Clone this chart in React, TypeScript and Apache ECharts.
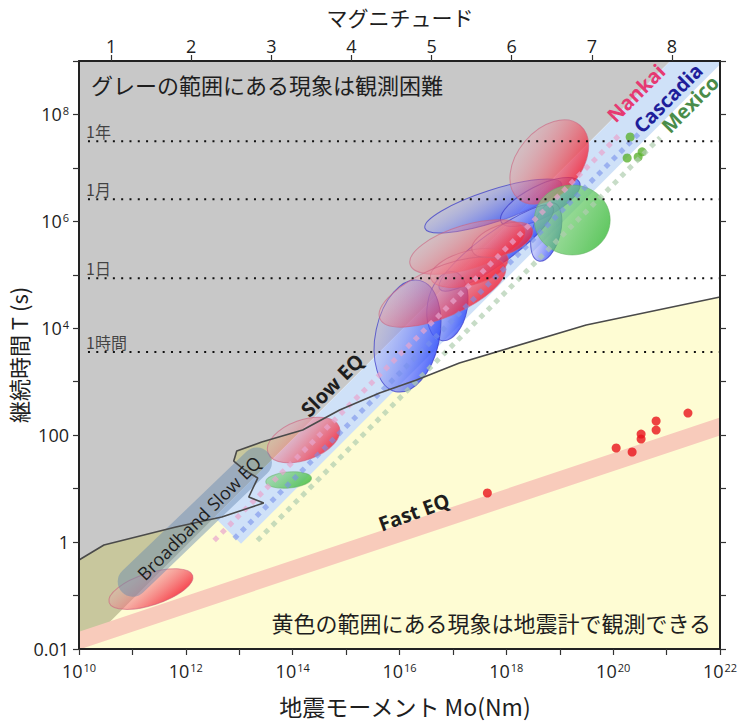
import React, { useEffect, useRef } from 'react';
import * as echarts from 'echarts';

// ---- axes (log10 of seismic moment [Nm] and of duration [s]) ----
const momentRange = [10, 22];
const durationRange = [-2, 9];
const magnitudeTicks = [1, 2, 3, 4, 5, 6, 7, 8];
const momentLabelExponents = [10, 12, 14, 16, 18, 20, 22];
const durationLabelExponents = [-2, 0, 2, 4, 6, 8];

// ---- reference durations ----
const timeLabels = ['1年', '1月', '1日', '1時間'];
const timeSeconds = [31557600, 2592000, 86400, 3600];

// ---- seismometer detection limit (log10 M0, log10 T) ----
const detectionX = [10, 10.467, 11.813, 12.673, 13.458, 13.178, 13.346, 13.103, 12.897, 12.953, 13.421, 14.187, 14.879, 15.626, 16.318, 17.121, 19.495, 22];
const detectionY = [-0.336, -0.055, 0.282, 0.469, 0.731, 0.843, 1.198, 1.348, 1.516, 1.703, 1.872, 2.096, 2.47, 2.789, 3.032, 3.35, 4.061, 4.585];

// grey area: log10 M0 - log10 T below this value
const grayLimit = 12.07;

// ---- scaling bands ----
const slowBandX = [12.785, 22.3];
const slowBandY = [0.215, 9.73];
const broadbandX = [11.006, 13.331];
const broadbandY = [-0.74, 1.49];
const fastBandX = [9.5, 22.5];
const fastBandY = [-2.01, 2.33];

const nankaiLineX = [12.53, 20.15];
const nankaiLineY = [0.03, 7.65];
const cascadiaLineX = [12.905, 20.57];
const cascadiaLineY = [0.065, 7.73];
const mexicoLineX = [13.34, 20.88];
const mexicoLineY = [0.03, 7.57];

// ---- regular earthquakes ----
const fastEqX = [17.645, 20.056, 20.355, 20.523, 20.523, 20.804, 20.804, 21.4];
const fastEqY = [0.918, 1.76, 1.685, 2.021, 1.928, 2.265, 2.096, 2.414];

// ---- Mexico long-term slow slip events ----
const mexicoDotX = [20.318, 20.262, 20.467, 20.542];
const mexicoDotY = [7.578, 7.185, 7.204, 7.3];

// ---- slow earthquake ranges: [centre log M0, centre log T, semi-axis a, semi-axis b (decades), tilt deg] ----
const cascadiaEllipses = [
  [17.757, 6.287, 1.346, 0.299, 18],
  [18.636, 6.362, 0.822, 0.299, 27],
  [18.748, 5.8, 0.561, 0.262, 75],
  [17.813, 5.501, 1.308, 0.299, 36],
  [16.897, 4.416, 0.654, 0.374, 80],
  [16.15, 3.855, 1.065, 0.598, 78],
];
const nankaiEllipses = [
  [18.804, 7.11, 0.897, 0.598, 50],
  [17.271, 5.52, 1.121, 0.411, 17],
  [17.308, 5.127, 0.748, 0.318, 15],
  [17.925, 5.651, 0.598, 0.28, 20],
  [16.804, 4.678, 1.271, 0.467, 23],
  [14.206, 1.909, 0.71, 0.374, 20],
  [11.346, -0.878, 0.822, 0.299, 18],
];
const mexicoEllipses = [
  [19.234, 6.025, 0.71, 0.654, 0],
  [13.925, 1.161, 0.43, 0.15, 5],
];

const FONT = "'Open Sans', 'Noto Sans CJK JP', sans-serif";
const JP = "'Noto Sans CJK JP', 'Open Sans', sans-serif";
const INK = '#1e1e1e';

const zip = (xs: number[], ys: number[]) => xs.map((x, i) => [x, ys[i]]);

function clipHalfPlane(pts: number[][], limit: number) {
  const out: number[][] = [];
  const f = (p: number[]) => p[0] - p[1] - limit;
  for (let i = 0; i < pts.length; i++) {
    const a = pts[i];
    const b = pts[(i + 1) % pts.length];
    const fa = f(a);
    const fb = f(b);
    if (fa <= 0) out.push(a);
    if ((fa < 0 && fb > 0) || (fa > 0 && fb < 0)) {
      const t = fa / (fa - fb);
      out.push([a[0] + t * (b[0] - a[0]), a[1] + t * (b[1] - a[1])]);
    }
  }
  return out;
}

const rich = {
  b: { fontSize: 18, fontFamily: FONT, color: INK },
  s: { fontSize: 11, fontFamily: FONT, color: INK, verticalAlign: 'top', padding: [0, 0, 0, 1] },
};

function xLabel(v: number) {
  const e = Math.round(v);
  return momentLabelExponents.includes(e) ? `{b|10}{s|${e}}` : '';
}
function yLabel(v: number) {
  const e = Math.round(v);
  if (!durationLabelExponents.includes(e)) return '';
  if (e <= 2) return `{b|${Math.pow(10, e).toFixed(e < 0 ? -e : 0)}}`;
  return `{b|10}{s|${e}}`;
}

export default function App() {
  const ref = useRef<HTMLDivElement>(null);
  useEffect(() => {
    if (!ref.current) return;
    const chart = echarts.init(ref.current, null, { renderer: 'svg' });

    const plotRect = [
      [momentRange[0], durationRange[1]],
      [momentRange[1], durationRange[1]],
      [momentRange[1], durationRange[0]],
      [momentRange[0], durationRange[0]],
    ];
    const grayPoly = clipHalfPlane(plotRect, grayLimit);
    const detection = zip(detectionX, detectionY);
    const yellowPoly = [...detection, [momentRange[1], durationRange[0]], [momentRange[0], durationRange[0]]];
    const olivePoly = clipHalfPlane(yellowPoly, grayLimit);

    const polySeries = (pts: number[][], color: string) => ({
      type: 'custom',
      coordinateSystem: 'cartesian2d',
      clip: true,
      silent: true,
      data: [[16, 3]],
      renderItem: (_p: any, api: any) => ({
        type: 'polygon',
        shape: { points: pts.map((p) => api.coord(p)) },
        style: { fill: color },
      }),
    });

    // straight band of a given pixel width around the segment xs/ys, clipped to the plot
    const bandSeries = (xs: number[], ys: number[], color: string, width: number) => ({
      type: 'custom',
      coordinateSystem: 'cartesian2d',
      clip: true,
      silent: true,
      data: [[16, 3]],
      renderItem: (_p: any, api: any) => {
        const a = api.coord([xs[0], ys[0]]);
        const b = api.coord([xs[1], ys[1]]);
        const dx = b[0] - a[0];
        const dy = b[1] - a[1];
        const L = Math.hypot(dx, dy);
        const nx = (-dy / L) * (width / 2);
        const ny = (dx / L) * (width / 2);
        return {
          type: 'polygon',
          shape: {
            points: [
              [a[0] + nx, a[1] + ny],
              [b[0] + nx, b[1] + ny],
              [b[0] - nx, b[1] - ny],
              [a[0] - nx, a[1] - ny],
            ],
          },
          style: { fill: color },
        };
      },
    });

    const roundBand = (xs: number[], ys: number[], color: string, width: number) => ({
      type: 'line',
      data: zip(xs, ys),
      showSymbol: false,
      silent: true,
      lineStyle: { color, width, cap: 'round' },
    });

    const dotLine = (xs: number[], ys: number[], color: string) => ({
      type: 'line',
      data: zip(xs, ys),
      showSymbol: false,
      silent: true,
      lineStyle: { color, width: 5, type: [5, 5.5], cap: 'butt' },
    });

    const ellipseSeries = (list: number[][], from: string, to: string, stroke: string) => ({
      type: 'custom',
      coordinateSystem: 'cartesian2d',
      clip: true,
      silent: true,
      data: list,
      renderItem: (_p: any, api: any) => {
        const c = api.coord([api.value(0), api.value(1)]);
        const s = api.size([1, 1]);
        const k = (s[0] + s[1]) / 2;
        const theta = (api.value(4) * Math.PI) / 180;
        // gradient towards screen lower-right, expressed in the rotated local frame
        const phi = (-25 * Math.PI) / 180 - theta;
        const gx = Math.cos(phi) / 2;
        const gy = -Math.sin(phi) / 2;
        return {
          type: 'ellipse',
          x: c[0],
          y: c[1],
          rotation: theta,
          shape: { cx: 0, cy: 0, rx: api.value(2) * k, ry: api.value(3) * k },
          style: {
            fill: new echarts.graphic.LinearGradient(0.5 - gx, 0.5 - gy, 0.5 + gx, 0.5 + gy, [
              { offset: 0, color: from },
              { offset: 1, color: to },
            ]),
            stroke,
            lineWidth: 1,
          },
        };
      },
    });

    const timeLines = timeSeconds.map((s) => ({
      type: 'line',
      data: [
        [10.168, Math.log10(s)],
        [momentRange[1], Math.log10(s)],
      ],
      showSymbol: false,
      silent: true,
      lineStyle: { color: '#111', width: 2, type: [2, 6.3], cap: 'butt' },
    }));

    const mwMin = (momentRange[0] - 9.1) / 1.5;
    const mwMax = (momentRange[1] - 9.1) / 1.5;

    const axisLine = { show: true, onZero: false, lineStyle: { color: '#222', width: 2 } };
    const axisTick = { show: true, length: 6, lineStyle: { color: '#333', width: 1.2 } };

    const txt = (text: string, x: number, y: number, opts: any = {}) => ({
      type: 'text',
      x,
      y,
      rotation: ((opts.rot || 0) * Math.PI) / 180,
      z: 100,
      silent: true,
      style: {
        text,
        fill: opts.color || INK,
        font: `${opts.weight || 'normal'} ${opts.size || 20}px ${opts.family || FONT}`,
        lineHeight: opts.lh || (opts.size || 20) + 2,
        align: opts.align || 'center',
        verticalAlign: 'middle',
      },
    });

    chart.setOption({
      animation: false,
      grid: { left: 79, right: 21, top: 61, bottom: 77, containLabel: false, outerBoundsMode: 'none' },
      xAxis: [
        {
          type: 'value',
          position: 'bottom',
          min: momentRange[0],
          max: momentRange[1],
          interval: 1,
          z: 10,
          axisLine,
          axisTick,
          axisLabel: { formatter: xLabel, rich, margin: 13, color: INK },
          splitLine: { show: false },
        },
        {
          type: 'value',
          position: 'top',
          min: mwMin,
          max: mwMax,
          z: 10,
          axisLine,
          axisTick: { ...axisTick, customValues: magnitudeTicks },
          axisLabel: {
            customValues: magnitudeTicks,
            fontSize: 18,
            fontFamily: FONT,
            color: INK,
            margin: 6,
          },
          splitLine: { show: false },
        },
      ],
      yAxis: [
        {
          type: 'value',
          position: 'left',
          min: durationRange[0],
          max: durationRange[1],
          interval: 1,
          z: 10,
          axisLine,
          axisTick,
          axisLabel: { formatter: yLabel, rich, fontSize: 18, fontFamily: FONT, color: INK, margin: 10 },
          splitLine: { show: false },
        },
        {
          type: 'value',
          position: 'right',
          min: durationRange[0],
          max: durationRange[1],
          interval: 1,
          z: 10,
          axisLine,
          axisTick,
          axisLabel: { show: false },
          splitLine: { show: false },
        },
      ],
      series: [
        polySeries(grayPoly, '#c8c8c8'),
        polySeries(yellowPoly, '#fefcd3'),
        polySeries(olivePoly, '#c8c79d'),
        bandSeries(fastBandX, fastBandY, '#f8cbbb', 17),
        bandSeries(slowBandX, slowBandY, '#cfe1f8', 37.5),
        dotLine(nankaiLineX, nankaiLineY, 'rgba(232,165,205,0.7)'),
        dotLine(cascadiaLineX, cascadiaLineY, 'rgba(120,145,235,0.6)'),
        dotLine(mexicoLineX, mexicoLineY, 'rgba(175,205,175,0.7)'),
        roundBand(broadbandX, broadbandY, 'rgba(100,135,175,0.45)', 30),
        ellipseSeries(cascadiaEllipses, 'rgba(175,175,240,0.3)', 'rgba(40,70,250,0.8)', 'rgba(60,60,200,0.75)'),
        ellipseSeries(nankaiEllipses, 'rgba(235,165,180,0.3)', 'rgba(245,30,50,0.8)', 'rgba(205,95,125,0.6)'),
        ellipseSeries(mexicoEllipses, 'rgba(130,210,130,0.6)', 'rgba(70,190,70,0.85)', 'rgba(100,175,100,0.5)'),
        {
          type: 'line',
          data: zip(detectionX, detectionY),
          showSymbol: false,
          silent: true,
          lineStyle: { color: '#4a4a4a', width: 1.6 },
        },
        ...timeLines,
        {
          type: 'scatter',
          data: timeSeconds.map((s, i) => ({ value: [10.15, Math.log10(s)], name: timeLabels[i] })),
          symbol: 'rect',
          symbolSize: 2,
          itemStyle: { color: 'rgba(0,0,0,0)' },
          silent: true,
          label: {
            show: true,
            formatter: (p: any) => p.name,
            position: [0, -9],
            align: 'left',
            verticalAlign: 'middle',
            fontSize: 16,
            fontFamily: JP,
            color: INK,
          },
        },
        {
          type: 'scatter',
          data: zip(fastEqX, fastEqY),
          symbolSize: 9,
          itemStyle: { color: '#e8131b' },
          silent: true,
        },
        {
          type: 'scatter',
          data: zip(mexicoDotX, mexicoDotY),
          symbolSize: 9,
          itemStyle: { color: '#5cb232' },
          silent: true,
        },
      ],
      graphic: [
        txt('マグニチュード', 400, 17, { size: 21, lh: 21, family: JP }),
        txt('地震モーメント Mo(Nm)', 405, 706, { size: 23, family: JP }),
        txt('継続時間 T (s)', 18, 355, { size: 22, family: JP, rot: 90 }),
        txt('グレーの範囲にある現象は観測困難', 91, 84, { size: 22, family: JP, align: 'left' }),
        txt('黄色の範囲にある現象は地震計で観測できる', 711, 622, { size: 22, family: JP, align: 'right' }),
        txt('Slow EQ', 332, 385, { size: 20, weight: 'bold', rot: 45 }),
        txt('Fast EQ', 414, 512, { size: 20, weight: 'bold', rot: 20 }),
        txt('Broadband Slow EQ', 199, 518, { size: 18, rot: 45 }),
        txt('Nankai', 636, 93, { size: 20, weight: 'bold', rot: 45, color: '#e63a72' }),
        txt('Cascadia', 668, 98, { size: 20, weight: 'bold', rot: 45, color: '#1e1e9a' }),
        txt('Mexico', 690, 104, { size: 20, weight: 'bold', rot: 45, color: '#4a8c4a' }),
      ],
    });

    return () => chart.dispose();
  }, []);

  return <div ref={ref} style={{ position: 'absolute', left: 0, top: 0, width: 741, height: 726 }} />;
}
